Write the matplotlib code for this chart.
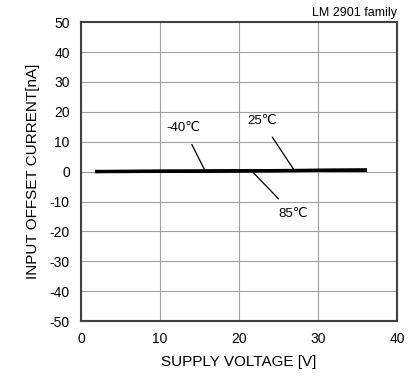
import matplotlib.pyplot as plt

plt.rcParams['font.family'] = ['Liberation Sans', 'DejaVu Sans']
plt.rcParams['axes.unicode_minus'] = False

# supply voltage [V]
vcc = [2, 5, 10, 15, 20, 25, 30, 36]
# input offset current [nA]
iio_m40 = [0.1, 0.1, 0.2, 0.2, 0.3, 0.3, 0.4, 0.4]
iio_25 = [0.0, 0.1, 0.1, 0.2, 0.3, 0.4, 0.5, 0.6]
iio_85 = [0.0, 0.0, 0.1, 0.1, 0.2, 0.3, 0.4, 0.5]

fig = plt.figure(figsize=(4.11, 3.81), dpi=100)
ax = fig.add_axes([0.197, 0.157, 0.769, 0.785])

for y in (iio_m40, iio_25, iio_85):
    ax.plot(vcc, y, color='black', lw=2.2)

ax.set_xlim(0, 40)
ax.set_ylim(-50, 50)
ax.set_xticks(range(0, 41, 10))
ax.set_yticks(range(-50, 51, 10))
ax.grid(True, color='#a0a0a0', lw=0.8)
for s in ax.spines.values():
    s.set_color('#404040')
    s.set_linewidth(1.5)
ax.tick_params(length=0, labelsize=10, pad=8)

ax.set_xlabel('SUPPLY VOLTAGE [V]', fontsize=11, labelpad=6)
ax.set_ylabel('INPUT OFFSET CURRENT[nA]', fontsize=11, labelpad=7)
ax.text(1.0, 1.01, 'LM 2901 family', transform=ax.transAxes,
        ha='right', va='bottom', fontsize=9)

# labels with leader lines
ax.annotate('-40\u2103', xy=(15.7, 0.3), xytext=(13.0, 14.5),
            ha='center', va='center', fontsize=9.5,
            arrowprops=dict(arrowstyle='-', color='black', lw=0.9, shrinkA=6, shrinkB=0))
ax.annotate('25\u2103', xy=(27.0, 0.4), xytext=(22.9, 16.8),
            ha='center', va='center', fontsize=9.5,
            arrowprops=dict(arrowstyle='-', color='black', lw=0.9, shrinkA=6, shrinkB=0))
ax.annotate('85\u2103', xy=(21.8, -0.3), xytext=(26.8, -14.0),
            ha='center', va='center', fontsize=9.5,
            arrowprops=dict(arrowstyle='-', color='black', lw=0.9, shrinkA=6, shrinkB=0))

fig.savefig('out.png', dpi=100)
